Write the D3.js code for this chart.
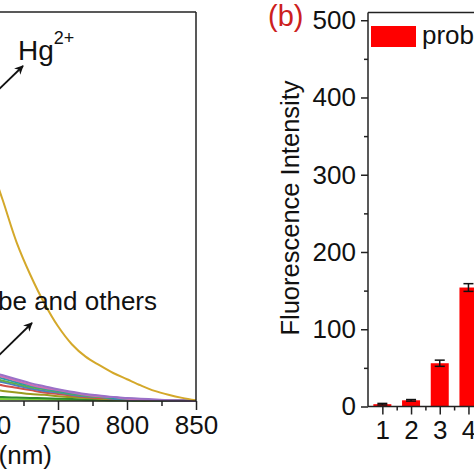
<!DOCTYPE html>
<html><head><meta charset="utf-8">
<script src="https://cdn.jsdelivr.net/npm/d3@7"></script>
<style>
html,body{margin:0;padding:0;background:#fff;}
svg{display:block;}
text{font-family:Arial,"Liberation Sans",sans-serif;fill:#111;}
</style></head>
<body>
<script>
// ---------- Panel (a): emission spectra (partially visible) ----------
const wavelengths = [700,710,720,730,740,750,760,770,780,790,800,810,820,830,840,850];
const hgSpectrum     = [310,258,204,162,126,96,73,57,46,36,28,20,13,8,4,1];
const purpleSpectrum = [38,33,28,23,19,15,12,9,7,5,4,3,2,1,0.5,0];
const pinkSpectrum   = [36,31,26,21,17,14,11,8,6,5,3,2,1.5,1,0.5,0];
const tealSpectrum   = [33,29,24,20,16,13,10,8,6,4,3,2,1,1,0.5,0];
const greenSpectrum  = [30,26,22,18,15,12,9,7,5,4,3,2,1,0.5,0.3,0];
const blueSpectrum   = [28,24,20,16,13,11,8,6,5,3,2,1.5,1,0.5,0.3,0];
const redSpectrum    = [24,20,17,14,11,9,7,5,4,3,2,1.5,1,0.5,0.3,0];
const oliveSpectrum  = [15,13,11,9,8,6,5,4,3,2,1.5,1,0.6,0.4,0.2,0];
const dkGreenSpectrum= [6,5,4.5,4,3.5,3,2.5,2,1.5,1,1,0.5,0.5,0.3,0.2,0];
const ltGreenSpectrum= [3,2.6,2.3,2,1.8,1.5,1.3,1,0.8,0.6,0.5,0.4,0.3,0.2,0.1,0];
const leftXTicks = [700,750,800,850];
const leftXMinor = [725,775,825];

// ---------- Panel (b): bar chart ----------
const barLabels = [1,2,3,4];
const barValues = [3,8,56,154];
const barErrors = [1,1,4,5];
const rightYTicks = [0,100,200,300,400,500];
const rightYMinor = [50,150,250,350,450];
const rightXMinor = [1.5,2.5,3.5];

const W = 474, H = 474;
const svg = d3.select("body").append("svg").attr("width",W).attr("height",H);
const defs = svg.append("defs");
defs.append("marker").attr("id","arr").attr("viewBox","0 0 10 10")
  .attr("refX",9).attr("refY",5).attr("markerWidth",5).attr("markerHeight",5)
  .attr("orient","auto").append("path").attr("d","M0,0 L10,5 L0,10 L3,5 Z").attr("fill","#111");

const FS = 26;
const axisColor = "#222";

// Left panel scales
const xL = d3.scaleLinear().domain([700,850]).range([-11,196]);
const yL = d3.scaleLinear().domain([0,500]).range([401,12]);

const gL = svg.append("g");
const line = d3.line().x((d,i)=>xL(wavelengths[i])).y(d=>yL(d)).curve(d3.curveCatmullRom);
const spectra = [
  {v: ltGreenSpectrum, c:"#7ccf3a"},
  {v: dkGreenSpectrum, c:"#2e8b2e"},
  {v: oliveSpectrum, c:"#9a9a1e"},
  {v: redSpectrum, c:"#d0504a"},
  {v: blueSpectrum, c:"#4a7fc0"},
  {v: greenSpectrum, c:"#5fae4a"},
  {v: tealSpectrum, c:"#2a9aa8"},
  {v: pinkSpectrum, c:"#d070b0"},
  {v: purpleSpectrum, c:"#9a70c8"},
  {v: hgSpectrum, c:"#d4a82a"}
];
spectra.forEach(s=>{
  gL.append("path").attr("d",line(s.v)).attr("fill","none")
    .attr("stroke",s.c).attr("stroke-width",2);
});

// frame (top and right)
gL.append("line").attr("x1",-20).attr("x2",xL(850)).attr("y1",yL.range()[1]).attr("y2",yL.range()[1])
  .attr("stroke",axisColor).attr("stroke-width",1.5);
gL.append("line").attr("x1",xL(850)).attr("x2",xL(850)).attr("y1",yL.range()[1]).attr("y2",yL(0))
  .attr("stroke",axisColor).attr("stroke-width",1.5);

// bottom axis
const axL = d3.axisBottom(xL).tickValues(leftXTicks).tickSize(9).tickPadding(6).tickFormat(d3.format("d"));
const gAxL = gL.append("g").attr("transform",`translate(0,${yL(0)})`).call(axL);
gAxL.select(".domain").attr("d",`M-20,0H${xL(850)}`);
gAxL.selectAll(".tick line").attr("stroke",axisColor).attr("stroke-width",1.5);
gAxL.select(".domain").attr("stroke",axisColor).attr("stroke-width",1.5);
gAxL.selectAll("text").attr("font-size",FS).attr("fill","#111").attr("font-family","Arial, Liberation Sans");
const gAxLm = gL.append("g").attr("transform",`translate(0,${yL(0)})`)
  .call(d3.axisBottom(xL).tickValues(leftXMinor).tickSize(5).tickFormat(""));
gAxLm.select(".domain").remove();
gAxLm.selectAll(".tick line").attr("stroke",axisColor).attr("stroke-width",1.5);

gL.append("text").attr("x",52).attr("y",464).attr("text-anchor","end")
  .attr("font-size",FS).text("Wavelength (nm)");

// annotations
const hg = gL.append("text").attr("x",18).attr("y",60).attr("font-size",28);
hg.append("tspan").text("Hg");
hg.append("tspan").attr("font-size",18).attr("dy",-16).text("2+");
gL.append("line").attr("x1",-6).attr("y1",94).attr("x2",23).attr("y2",66)
  .attr("stroke","#111").attr("stroke-width",1.8).attr("marker-end","url(#arr)");
gL.append("text").attr("x",157).attr("y",310).attr("text-anchor","end")
  .attr("font-size",26).text("probe and others");
gL.append("line").attr("x1",-6).attr("y1",360).attr("x2",32).attr("y2",323)
  .attr("stroke","#111").attr("stroke-width",1.8).attr("marker-end","url(#arr)");

// Right panel scales
const xR = d3.scaleLinear().domain([0.5,4.5]).range([368,368+4*28.7]);
const yR = d3.scaleLinear().domain([0,510]).range([406.5,12.5]);
const gR = svg.append("g");
const bw = 18;

gR.selectAll("rect.bar").data(barValues).join("rect").attr("class","bar")
  .attr("x",(d,i)=>xR(barLabels[i])-bw/2).attr("width",bw)
  .attr("y",d=>yR(d)).attr("height",d=>yR(0)-yR(d)).attr("fill","#ff0000");

// error bars
barValues.forEach((v,i)=>{
  const cx = xR(barLabels[i]);
  const e = barErrors[i];
  gR.append("line").attr("x1",cx).attr("x2",cx).attr("y1",yR(v+e)).attr("y2",yR(v-e))
    .attr("stroke","#111").attr("stroke-width",1.5);
  [v+e,v-e].forEach(t=>{
    gR.append("line").attr("x1",cx-5).attr("x2",cx+5).attr("y1",yR(t)).attr("y2",yR(t))
      .attr("stroke","#111").attr("stroke-width",1.5);
  });
});

// y axis
const gAyR = gR.append("g").attr("transform",`translate(${xR(0.5)},0)`)
  .call(d3.axisLeft(yR).tickValues(rightYTicks).tickSize(7).tickPadding(5));
gAyR.select(".domain").attr("d",`M0,${yR(510)}V${yR(0)}`).attr("stroke",axisColor).attr("stroke-width",1.5);
gAyR.selectAll(".tick line").attr("stroke",axisColor).attr("stroke-width",1.5);
gAyR.selectAll("text").attr("font-size",FS).attr("fill","#111").attr("font-family","Arial, Liberation Sans");
const gAyRm = gR.append("g").attr("transform",`translate(${xR(0.5)},0)`)
  .call(d3.axisLeft(yR).tickValues(rightYMinor).tickSize(4).tickFormat(""));
gAyRm.select(".domain").remove();
gAyRm.selectAll(".tick line").attr("stroke",axisColor).attr("stroke-width",1.5);

// top frame
gR.append("line").attr("x1",xR(0.5)).attr("x2",W+5).attr("y1",yR(510)).attr("y2",yR(510))
  .attr("stroke",axisColor).attr("stroke-width",1.5);

// x axis
const gAxR = gR.append("g").attr("transform",`translate(0,${yR(0)})`)
  .call(d3.axisBottom(xR).tickValues(barLabels).tickSize(8).tickPadding(6).tickFormat(d3.format("d")));
gAxR.select(".domain").attr("d",`M${xR(0.5)},0H${W+5}`).attr("stroke",axisColor).attr("stroke-width",1.5);
gAxR.selectAll(".tick line").attr("stroke",axisColor).attr("stroke-width",1.5);
gAxR.selectAll("text").attr("font-size",FS).attr("fill","#111").attr("font-family","Arial, Liberation Sans");
const gAxRm = gR.append("g").attr("transform",`translate(0,${yR(0)})`)
  .call(d3.axisBottom(xR).tickValues(rightXMinor).tickSize(4).tickFormat(""));
gAxRm.select(".domain").remove();
gAxRm.selectAll(".tick line").attr("stroke",axisColor).attr("stroke-width",1.5);

// y title
gR.append("text").attr("transform","translate(299,208) rotate(-90)")
  .attr("text-anchor","middle").attr("font-size",25.5).text("Fluorescence Intensity");

// panel label
gR.append("text").attr("x",268).attr("y",26).attr("font-size",29).style("fill","#cc2020").text("(b)");

// legend
gR.append("rect").attr("x",371).attr("y",26).attr("width",45).attr("height",21).attr("fill","#ff0000");
gR.append("text").attr("x",422).attr("y",44).attr("font-size",FS).text("probe");
</script>
</body></html>
